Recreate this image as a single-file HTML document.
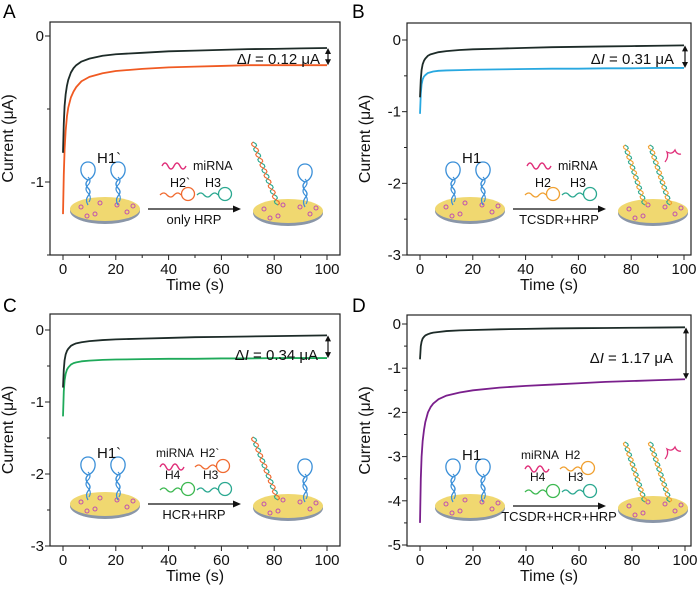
<!DOCTYPE html>
<html><head><meta charset="utf-8"><style>
html,body{margin:0;padding:0;background:#fff;}
svg{display:block;font-family:"Liberation Sans",Arial,sans-serif;}
</style></head><body>
<svg id="fig" width="700" height="591" viewBox="0 0 700 591" xmlns="http://www.w3.org/2000/svg"></svg>
<script>
// ---- data ----
const times = [0,0.3,0.6,1,1.5,2,3,4,5,7,10,15,20,30,40,50,60,70,80,90,100];
const aControl = [-0.80,-0.60,-0.48,-0.40,-0.34,-0.30,-0.25,-0.22,-0.20,-0.175,-0.155,-0.135,-0.125,-0.115,-0.105,-0.10,-0.095,-0.09,-0.088,-0.085,-0.082];
const aSample  = [-1.22,-0.95,-0.78,-0.65,-0.55,-0.49,-0.42,-0.38,-0.35,-0.31,-0.28,-0.255,-0.24,-0.225,-0.215,-0.21,-0.205,-0.20,-0.20,-0.20,-0.20];
const bControl = [-0.80,-0.55,-0.42,-0.34,-0.29,-0.26,-0.22,-0.20,-0.19,-0.17,-0.155,-0.14,-0.13,-0.12,-0.11,-0.10,-0.095,-0.09,-0.085,-0.08,-0.075];
const bSample  = [-1.03,-0.75,-0.62,-0.55,-0.51,-0.49,-0.46,-0.45,-0.44,-0.43,-0.425,-0.42,-0.415,-0.41,-0.405,-0.40,-0.40,-0.395,-0.395,-0.39,-0.39];
const cControl = [-0.80,-0.55,-0.42,-0.34,-0.29,-0.26,-0.22,-0.20,-0.185,-0.17,-0.155,-0.14,-0.13,-0.12,-0.11,-0.10,-0.095,-0.09,-0.085,-0.08,-0.075];
const cSample  = [-1.20,-0.85,-0.70,-0.61,-0.55,-0.52,-0.48,-0.46,-0.45,-0.435,-0.425,-0.415,-0.41,-0.405,-0.40,-0.40,-0.395,-0.395,-0.39,-0.39,-0.39];
const dControl = [-0.80,-0.50,-0.40,-0.33,-0.29,-0.26,-0.23,-0.21,-0.195,-0.18,-0.16,-0.145,-0.135,-0.12,-0.11,-0.10,-0.095,-0.09,-0.085,-0.08,-0.075];
const dSample  = [-4.50,-3.50,-3.00,-2.65,-2.40,-2.22,-2.00,-1.88,-1.80,-1.70,-1.62,-1.55,-1.50,-1.44,-1.40,-1.37,-1.34,-1.31,-1.29,-1.27,-1.25];
const xTicks = [0,20,40,60,80,100];
const aYTicks = [0,-1];
const bYTicks = [0,-1,-2,-3];
const cYTicks = [0,-1,-2,-3];
const dYTicks = [0,-1,-2,-3,-4,-5];
const deltaLabels = ["0.12","0.31","0.34","1.17"];

const NS="http://www.w3.org/2000/svg";
const svg=document.getElementById('fig');
function el(tag,attrs,parent,text){const e=document.createElementNS(NS,tag);for(const k in attrs)e.setAttribute(k,attrs[k]);if(text!==undefined)e.textContent=text;(parent||svg).appendChild(e);return e;}

function panel(cfg){
  const g=el('g',{});
  
  
  const xs=v=>cfg.x0+(v-0)*(cfg.x100-cfg.x0)/100;
  const ys=v=>cfg.y0px+(v-0)*(cfg.y0px-cfg.yRefPx)/(0-cfg.yRef);
  const L=el('text',{x:cfg.letterX,y:cfg.letterY,'font-size':19,fill:'#000'},g,cfg.id);
  
  
  const fr=el('rect',{x:cfg.L,y:cfg.T,width:cfg.R-cfg.L,height:cfg.B-cfg.T,fill:'none',stroke:'#222','stroke-width':1.2},g);
  
  
  for(let v=0;v<=100;v+=10){
    const major=xTicks.includes(v);
    el('line',{x1:xs(v),x2:xs(v),y1:cfg.B,y2:cfg.B+(major?5:3),stroke:'#222','stroke-width':1},g);
  }
  xTicks.forEach(v=>{
    const t=el('text',{x:xs(v),y:cfg.B+19,'font-size':15,'text-anchor':'middle',fill:'#111'},g,String(v));
    
    
  });
  cfg.yTicks.forEach((v,i)=>{
    el('line',{x1:cfg.L-5,x2:cfg.L,y1:ys(v),y2:ys(v),stroke:'#222','stroke-width':1},g);
    const m=v-cfg.minorStep;
    if(ys(m)<=cfg.B+0.5) el('line',{x1:cfg.L-3,x2:cfg.L,y1:ys(m),y2:ys(m),stroke:'#222','stroke-width':1},g);
    const t=el('text',{x:cfg.L-6,y:ys(v)+5,'font-size':15,'text-anchor':'end',fill:'#111'},g,v===0?'0':String(v));
    
    
  });
  const xt=el('text',{x:(cfg.L+cfg.R)/2,y:cfg.B+35,'font-size':16,'text-anchor':'middle',fill:'#111'},g,'Time (s)');
  
  
  const yc=(cfg.T+cfg.B)/2;
  const yt=el('text',{x:cfg.L-37,y:yc,'font-size':16,'text-anchor':'middle',fill:'#111',transform:`rotate(-90 ${cfg.L-37} ${yc})`},g,'Current (μA)');
  
  
  [[cfg.sample,cfg.color,'sample-curve'],[cfg.control,'#1d2b28','control-curve']].forEach(([arr,col,nm])=>{
    const d=arr.map((v,i)=>(i?'L':'M')+xs(times[i]).toFixed(2)+' '+ys(v).toFixed(2)).join(' ');
    const p=el('path',{d:d,fill:'none',stroke:col,'stroke-width':1.8,'stroke-linejoin':'round'},g);
    
    
  });
  const ax=xs(100)+1, ya=ys(cfg.control[cfg.control.length-1]), yb=ys(cfg.sample[cfg.sample.length-1]);
  const ar=el('g',{},g);
  
  
  el('line',{x1:ax,x2:ax,y1:ya+2,y2:yb-2,stroke:'#111','stroke-width':1.2},ar);
  el('path',{d:`M${ax-3} ${ya+6} L${ax} ${ya} L${ax+3} ${ya+6} Z`,fill:'#111'},ar);
  el('path',{d:`M${ax-3} ${yb-6} L${ax} ${yb} L${ax+3} ${yb-6} Z`,fill:'#111'},ar);
  const dl=el('text',{x:cfg.dx,y:cfg.dy,'font-size':15,'text-anchor':'end',fill:'#111'},g);
  
  
  el('tspan',{},dl,'Δ');el('tspan',{'font-style':'italic'},dl,'I');el('tspan',{},dl,' = '+cfg.delta+' μA');
  inset(g,cfg.ix,cfg.iy,cfg.inset);
}

function hairpin(g,x,y,col){
  el('path',{d:`M${x} ${y} q-3 -5 0 -9 q4 -4 0 -8 q-4 -4 0 -8`,fill:'none',stroke:col,'stroke-width':1.3},g);
  el('path',{d:`M${x} ${y-25} c-10 -4 -9 -18 0 -18 c9 0 10 14 0 18`,fill:'none',stroke:col,'stroke-width':1.3},g);
  el('path',{d:`M${x+1} ${y-3} q3 -5 -1 -9 q-4 -4 0 -8 q4 -4 0 -8`,fill:'none',stroke:col,'stroke-width':1.1},g);
}
function smallPin(g,x,y,col){
  el('path',{d:`M${x} ${y} q4 -4 7 0 q4 4 7 0 q4 -4 7 0`,fill:'none',stroke:col,'stroke-width':1.3},g);
  el('circle',{cx:x+28,cy:y-1,r:6.5,fill:'none',stroke:col,'stroke-width':1.3},g);
}
function electrode(g,cx,cy){
  const e=el('g',{},g);
  
  
  el('ellipse',{cx:cx,cy:cy+2,rx:35,ry:13,fill:'#8a96a8'},e);
  el('ellipse',{cx:cx,cy:cy,rx:35,ry:12,fill:'#f0d870'},e);
  [[-24,-2],[-10,5],[-5,-6],[12,-4],[22,3],[28,-3],[-18,7]].forEach(([dx,dy])=>el('circle',{cx:cx+dx,cy:cy+dy,r:2,fill:'none',stroke:'#c050b0','stroke-width':1},e));
}
function helix(g,x1,y1,x2,y2,c1,c2){
  const n=6,d1=[],d2=[];
  for(let i=0;i<=n*6;i++){const t=i/(n*6);const px=x1+(x2-x1)*t,py=y1+(y2-y1)*t;const s=Math.sin(t*n*2*Math.PI)*2.5;
    d1.push((i?'L':'M')+(px+s).toFixed(1)+' '+py.toFixed(1));d2.push((i?'L':'M')+(px-s).toFixed(1)+' '+py.toFixed(1));}
  el('path',{d:d1.join(' '),fill:'none',stroke:c1,'stroke-width':1.1},g);
  el('path',{d:d2.join(' '),fill:'none',stroke:c2,'stroke-width':1.1},g);
}
function inset(pg,ox,oy,o){
  const g=el('g',{transform:`translate(${ox} ${oy})`},pg);
  
  
  const blue='#3a8fd8';
  electrode(g,105,209);
  hairpin(g,88,205,blue);hairpin(g,118,205,blue);
  el('text',{x:97,y:163,'font-size':15,fill:'#111'},g,o.h1);
  if(!o.hcr){
    el('path',{d:'M162 166 q3 -6 6 0 q3 6 6 0 q3 -6 6 0 q3 6 6 0',fill:'none',stroke:'#e0307a','stroke-width':1.4},g);
    el('text',{x:193,y:170,'font-size':12.5,fill:'#111'},g,'miRNA');
    el('text',{x:170,y:187,'font-size':12.5,fill:'#111'},g,o.h2);
    el('text',{x:205,y:187,'font-size':12.5,fill:'#111'},g,'H3');
    smallPin(g,160,195,o.h2c);smallPin(g,197,195,'#2aa890');
  } else {
    el('text',{x:156,y:162,'font-size':12,fill:'#111'},g,'miRNA');
    el('text',{x:200,y:162,'font-size':12,fill:'#111'},g,o.h2);
    el('path',{d:'M160 172 q3 -6 6 0 q3 6 6 0 q3 -6 6 0 q3 6 6 0',fill:'none',stroke:'#e0307a','stroke-width':1.4},g);
    smallPin(g,195,172,o.h2c);
    el('text',{x:165,y:184,'font-size':12,fill:'#111'},g,'H4');
    el('text',{x:203,y:184,'font-size':12,fill:'#111'},g,'H3');
    smallPin(g,160,195,'#3cb850');smallPin(g,197,195,'#2aa890');
  }
  el('line',{x1:148,x2:234,y1:209,y2:209,stroke:'#111','stroke-width':1.2},g);
  el('path',{d:'M233 205.5 L241 209 L233 212.5 Z',fill:'#111'},g);
  el('text',{x:194,y:224,'font-size':13,'text-anchor':'middle',fill:'#111'},g,o.label);
  electrode(g,288,211);
  if(o.two){
    helix(g,260,145,280,205,'#2aa890','#f0a030');helix(g,285,145,305,205,'#2aa890','#f0a030');
    el('path',{d:'M300 162 q4 -5 2 -10 q5 3 8 -2 q2 5 6 4',fill:'none',stroke:'#e0307a','stroke-width':1.3},g);
  } else {
    helix(g,253,142,278,205,'#2aa890',o.h2c);
    hairpin(g,305,207,blue);
  }
}

panel({id:'A',letterX:3,letterY:18,L:50,T:22,R:340,B:255,x0:63,x100:327,y0px:36,yRef:-1,yRefPx:182,yTicks:aYTicks,minorStep:0.5,
  control:aControl,sample:aSample,color:'#f05a22',dx:320,dy:64,delta:deltaLabels[0],ix:0,iy:0,inset:{h1:'H1`',h2:'H2`',h2c:'#f06a30',label:'only HRP',hcr:false,two:false}});
panel({id:'B',letterX:352,letterY:18,L:407,T:23,R:691,B:255,x0:420,x100:684,y0px:40,yRef:-3,yRefPx:255,yTicks:bYTicks,minorStep:0.5,
  control:bControl,sample:bSample,color:'#28a8e0',dx:674,dy:64,delta:deltaLabels[1],ix:365,iy:0,inset:{h1:'H1',h2:'H2',h2c:'#f0a030',label:'TCSDR+HRP',hcr:false,two:true}});
panel({id:'C',letterX:3,letterY:312,L:50,T:314,R:340,B:546,x0:63,x100:327,y0px:330,yRef:-3,yRefPx:546,yTicks:cYTicks,minorStep:0.5,
  control:cControl,sample:cSample,color:'#1faa5a',dx:318,dy:360,delta:deltaLabels[2],ix:0,iy:295,inset:{h1:'H1`',h2:'H2`',h2c:'#f06a30',label:'HCR+HRP',hcr:true,two:false}});
panel({id:'D',letterX:352,letterY:312,L:407,T:315,R:691,B:546,x0:420,x100:685,y0px:324,yRef:-5,yRefPx:545,yTicks:dYTicks,minorStep:0.5,
  control:dControl,sample:dSample,color:'#7a1f8c',dx:673,dy:363,delta:deltaLabels[3],ix:365,iy:297,inset:{h1:'H1',h2:'H2',h2c:'#f0a030',label:'TCSDR+HCR+HRP',hcr:true,two:true}});
</script>
</body></html>
